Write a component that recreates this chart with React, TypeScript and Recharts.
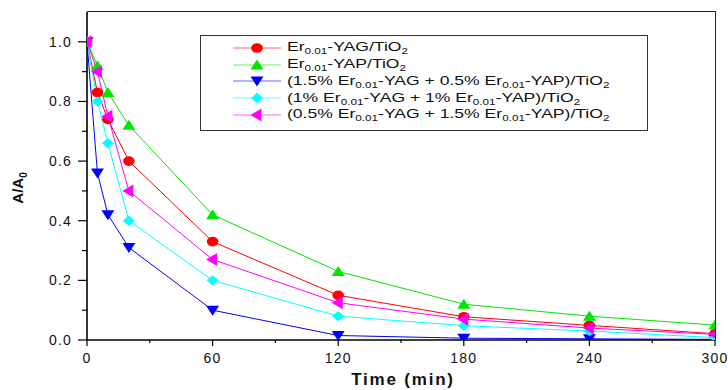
import React from 'react';
import { LineChart, Line, XAxis, YAxis } from 'recharts';

const times = [0, 5, 10, 20, 60, 120, 180, 240, 300];
const yagValues = [1.0, 0.83, 0.74, 0.6, 0.33, 0.15, 0.078, 0.049, 0.021];
const yapValues = [1.0, 0.92, 0.83, 0.72, 0.42, 0.23, 0.12, 0.08, 0.05];
const mix15Values = [1.0, 0.56, 0.42, 0.31, 0.1, 0.015, 0.006, 0.004, 0.002];
const mix1Values = [1.0, 0.8, 0.66, 0.4, 0.2, 0.08, 0.048, 0.03, 0.008];
const mix05Values = [1.0, 0.9, 0.75, 0.5, 0.27, 0.125, 0.07, 0.04, 0.019];

const xTicks = [0, 30, 60, 90, 120, 150, 180, 210, 240, 270, 300];
const yTicks = [0, 0.1, 0.2, 0.3, 0.4, 0.5, 0.6, 0.7, 0.8, 0.9, 1.0];
const X_MAX = 300;
const Y_MAX = 1.1;

const series = [
  { key: 'yag', color: '#ff0000', shape: 'circle', values: yagValues, label: ['Er', '0.01', '-YAG/TiO', '2', ''] },
  { key: 'yap', color: '#00e600', shape: 'up', values: yapValues, label: ['Er', '0.01', '-YAP/TiO', '2', ''] },
  { key: 'mix15', color: '#0000ff', shape: 'down', values: mix15Values, label: ['(1.5% Er', '0.01', '-YAG + 0.5% Er', '0.01', '-YAP)/TiO', '2'] },
  { key: 'mix1', color: '#00ffff', shape: 'diamond', values: mix1Values, label: ['(1% Er', '0.01', '-YAG + 1% Er', '0.01', '-YAP)/TiO', '2'] },
  { key: 'mix05', color: '#ff00ff', shape: 'left', values: mix05Values, label: ['(0.5% Er', '0.01', '-YAG + 1.5% Er', '0.01', '-YAP)/TiO', '2'] },
];

const data = times.map((t, i) => {
  const row: any = { t };
  series.forEach((s) => { row[s.key] = s.values[i]; });
  return row;
});

const FONT = '"Liberation Sans", Arial, sans-serif';

function markerShape(shape: string, cx: number, cy: number, color: string) {
  switch (shape) {
    case 'circle':
      return <ellipse cx={cx} cy={cy} rx={5.8} ry={4.8} fill={color} />;
    case 'up':
      return <polygon points={`${cx},${cy - 5.5} ${cx + 6.5},${cy + 4.5} ${cx - 6.5},${cy + 4.5}`} fill={color} />;
    case 'down':
      return <polygon points={`${cx - 6.5},${cy - 4.5} ${cx + 6.5},${cy - 4.5} ${cx},${cy + 5.5}`} fill={color} />;
    case 'diamond':
      return <polygon points={`${cx},${cy - 5.2} ${cx + 6},${cy} ${cx},${cy + 5.2} ${cx - 6},${cy}`} fill={color} />;
    case 'left':
      return <polygon points={`${cx - 6.5},${cy} ${cx + 4.5},${cy - 6.5} ${cx + 4.5},${cy + 6.5}`} fill={color} />;
    default:
      return null;
  }
}

const makeDot = (shape: string, color: string) => (props: any) => {
  const { cx, cy, index } = props;
  if (cx == null || cy == null) return <g key={index} />;
  return <g key={`d-${index}`}>{markerShape(shape, cx, cy, color)}</g>;
};

const LeftTick = (props: any) => {
  const { x, y, payload } = props;
  const v = payload.value;
  const major = Math.round(v * 10) % 2 === 0;
  return (
    <g>
      <line x1={x - (major ? 9 : 5)} x2={x} y1={y} y2={y} stroke="#000" strokeWidth={1.2} />
      {major && (
        <text x={x - 15} y={y} dy="0.36em" textAnchor="end" fontSize={14} letterSpacing={1.2} fill="#111" fontFamily={FONT}>
          {v.toFixed(1)}
        </text>
      )}
    </g>
  );
};

const BottomTick = (props: any) => {
  const { x, y, payload } = props;
  const v = payload.value;
  const major = v % 60 === 0;
  return (
    <g>
      <line x1={x} x2={x} y1={y} y2={y + (major ? 6 : 3)} stroke="#000" strokeWidth={1.2} />
      {major && (
        <text x={x} y={y + 23} textAnchor="middle" fontSize={14} letterSpacing={1.2} fill="#111" fontFamily={FONT}>
          {String(v)}
        </text>
      )}
    </g>
  );
};

const LegendBox = () => (
  <div
    style={{
      position: 'absolute',
      left: 200,
      top: 35,
      width: 446,
      height: 94,
      border: '1.5px solid #333',
      background: '#fff',
      fontFamily: FONT,
      fontSize: 13.5,
      color: '#111',
    }}
  >
    {series.map((s, i) => (
      <div key={s.key} style={{ position: 'absolute', left: 32, top: 4 + i * 16.7, height: 16, display: 'flex', alignItems: 'center', whiteSpace: 'nowrap' }}>
        <svg width={48} height={14} style={{ display: 'block' }}>
          <line x1={0} x2={48} y1={7} y2={7} stroke={s.color} strokeWidth={1.2} strokeOpacity={0.6} />
          {markerShape(s.shape, 24, 7, s.color)}
        </svg>
        <span style={{ marginLeft: 6, display: 'inline-block', transform: 'scaleX(1.3)', transformOrigin: 'left center' }}>
          {s.label.map((part, j) =>
            j % 2 === 1 ? (
              <sub key={j} style={{ fontSize: 9, verticalAlign: '-0.35em' }}>{part}</sub>
            ) : (
              <span key={j}>{part}</span>
            )
          )}
        </span>
      </div>
    ))}
  </div>
);

export default function App() {
  return (
    <div style={{ position: 'absolute', left: 0, top: 0, width: 728, height: 390, background: '#fff', fontFamily: FONT }}>
      <LineChart width={728} height={390} data={data} margin={{ top: 12, right: 13, bottom: 0, left: 0 }}>
        <XAxis
          xAxisId="bottom"
          dataKey="t"
          type="number"
          domain={[0, X_MAX]}
          allowDataOverflow
          ticks={xTicks}
          interval={0}
          height={50}
          tickSize={0}
          tickMargin={0}
          tickLine={false}
          tick={<BottomTick />}
          axisLine={{ stroke: '#000', strokeWidth: 1.6 }}
        />
        <YAxis
          yAxisId="left"
          type="number"
          domain={[0, Y_MAX]}
          allowDataOverflow
          ticks={yTicks}
          interval={0}
          width={87}
          tickSize={0}
          tickMargin={0}
          tickLine={false}
          tick={<LeftTick />}
          axisLine={{ stroke: '#000', strokeWidth: 1.6 }}
        />
        {series.map((s) => (
          <Line
            key={s.key}
            xAxisId="bottom"
            yAxisId="left"
            type="linear"
            dataKey={s.key}
            stroke={s.color}
            strokeWidth={1}
            dot={makeDot(s.shape, s.color)}
            activeDot={false}
            isAnimationActive={false}
          />
        ))}
      </LineChart>
      <div
        style={{
          position: 'absolute',
          left: 87,
          top: 11.3,
          width: 628.7,
          height: 329,
          boxSizing: 'border-box',
          borderTop: '1.4px solid #222',
          borderRight: '1.4px solid #222',
          pointerEvents: 'none',
        }}
      />
      <div
        style={{
          position: 'absolute',
          left: 19,
          top: 188,
          transform: 'translate(-50%, -50%) rotate(-90deg)',
          fontFamily: FONT,
          fontWeight: 'bold',
          fontSize: 15,
          whiteSpace: 'nowrap',
          color: '#111',
        }}
      >
        A/A<sub style={{ fontSize: 10 }}>0</sub>
      </div>
      <div
        style={{
          position: 'absolute',
          left: 403,
          top: 380,
          transform: 'translate(-50%, -50%)',
          fontFamily: FONT,
          fontWeight: 'bold',
          fontSize: 17,
          letterSpacing: 1.8,
          whiteSpace: 'nowrap',
          color: '#111',
        }}
      >
        Time (min)
      </div>
      <LegendBox />
    </div>
  );
}
